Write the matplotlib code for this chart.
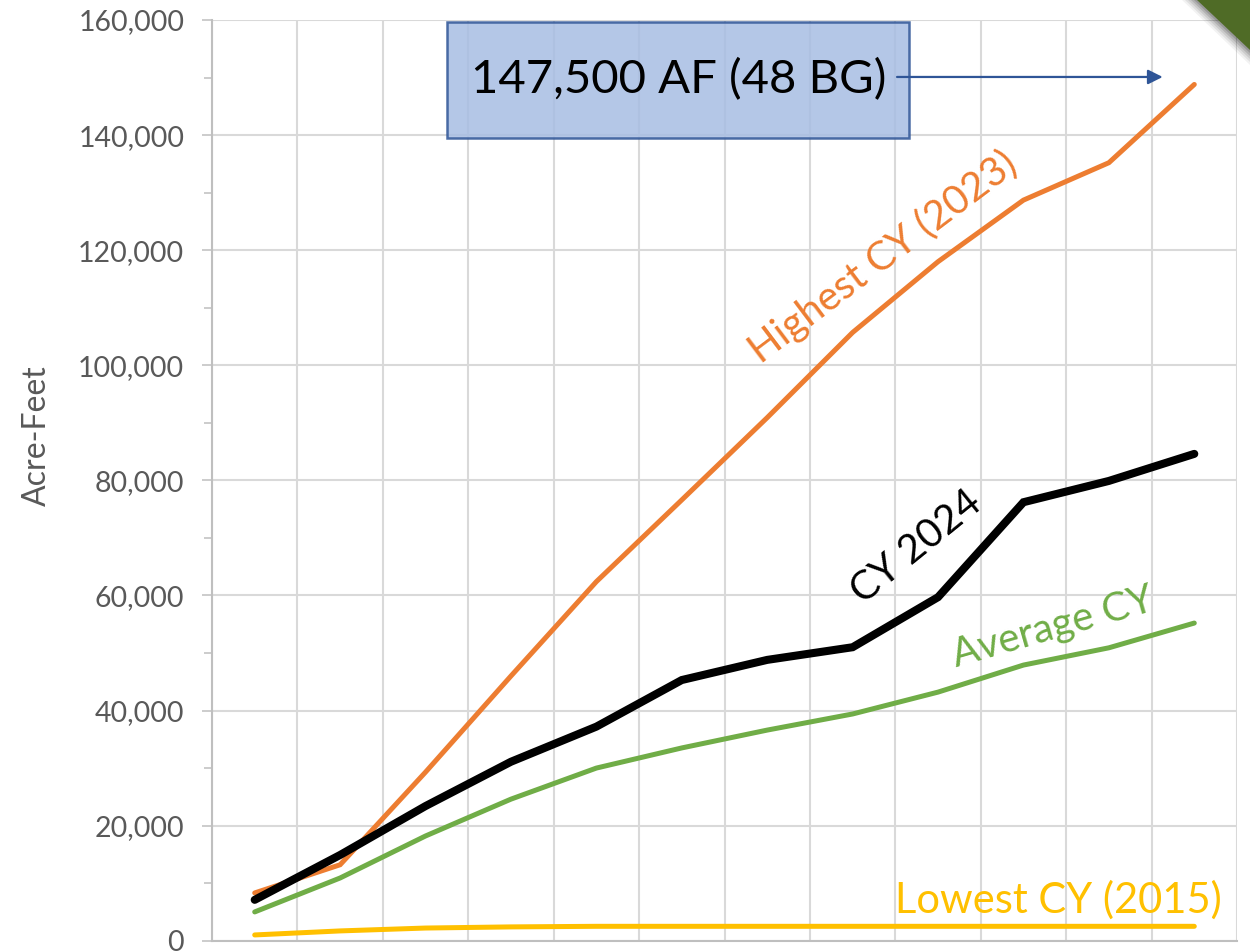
#!/usr/bin/env python3
"""Cumulative acre-feet by month: CY 2024 against the high, low and average years."""

import matplotlib

matplotlib.use("Agg")
import matplotlib.pyplot as plt
import numpy as np
from matplotlib.patches import Polygon, Rectangle
from matplotlib.ticker import FuncFormatter, MultipleLocator

MONTHS = ["Jan", "Feb", "Mar", "Apr", "May", "Jun",
          "Jul", "Aug", "Sep", "Oct", "Nov", "Dec"]
HIGHEST_2023 = [8300, 13200, 29300, 46000, 62400, 76600,
                90900, 105700, 118000, 128700, 135200, 148800]
CY_2024 = [7100, 14900, 23400, 31100, 37200, 45300,
           48800, 51000, 59700, 76200, 79900, 84600]
AVERAGE_CY = [5000, 10900, 18200, 24600, 30000, 33500,
              36600, 39400, 43200, 47900, 50900, 55200]
LOWEST_2015 = [1000, 1700, 2200, 2400, 2500, 2500,
               2500, 2500, 2500, 2500, 2500, 2500]
CALLOUT_TEXT = "147,500 AF (48 BG)"

FONT = ["Lato", "DejaVu Sans"]
GRID = "#D9D9D9"
AXIS = "#BFBFBF"
LABEL = "#595959"

plt.rcParams["font.family"] = FONT

fig = plt.figure(figsize=(12.5, 9.51), dpi=100)
ax = fig.add_axes([212 / 1250, 10.3 / 951, 1025 / 1250, 920.7 / 951])

x = np.arange(len(MONTHS))
series = [
    (LOWEST_2015, "#FFC000", 3.6),
    (AVERAGE_CY, "#70AD47", 3.6),
    (HIGHEST_2023, "#ED7D31", 3.6),
    (CY_2024, "#000000", 5.8),
]
for values, color, width in series:
    ax.plot(x, values, color=color, linewidth=width,
            solid_capstyle="round", solid_joinstyle="miter", zorder=3)

ax.set_xlim(-0.5, len(MONTHS) - 0.5)
ax.set_ylim(0, 160000)
ax.set_xticks(np.arange(-0.5, len(MONTHS), 1))
ax.tick_params(axis="x", length=0, labelbottom=False)
ax.yaxis.set_major_locator(MultipleLocator(20000))
ax.yaxis.set_minor_locator(MultipleLocator(10000))
ax.yaxis.set_major_formatter(FuncFormatter(lambda v, _: f"{v:,.0f}"))
ax.tick_params(axis="y", which="major", length=7, width=1.1, color=AXIS,
               labelsize=20.5, labelcolor=LABEL, pad=13)
ax.tick_params(axis="y", which="minor", length=5.5, width=1.1, color=AXIS)
ax.grid(True, which="major", color=GRID, linewidth=1.5, zorder=0)
ax.set_axisbelow(True)
for side in ("top", "right"):
    ax.spines[side].set_visible(False)
for side in ("left", "bottom"):
    ax.spines[side].set_color(AXIS)
    ax.spines[side].set_linewidth(1.5)

fig.text(37 / 1250, 1 - 436 / 951, "Acre-Feet", rotation=90, fontsize=23,
         color=LABEL, ha="center", va="center")

# series labels drawn along the lines
ax.text(7.35, 118800, "Highest CY (2023)", color="#ED7D31", fontsize=29,
        rotation=37, ha="center", va="center")
ax.text(7.75, 68400, "CY 2024", color="#000000", fontsize=29,
        rotation=39, ha="center", va="center")
ax.text(9.34, 54500, "Average CY", color="#70AD47", fontsize=29,
        rotation=16, ha="center", va="center")
ax.text(9.41, 7100, "Lowest CY (2015)", color="#FFC000", fontsize=30,
        ha="center", va="center")

# callout box with arrow towards the December high
ax.add_patch(Rectangle((2.25, 139500), 5.41, 20200, facecolor="#A7BDE3",
                       alpha=0.85, edgecolor="#2F5597", linewidth=1.8,
                       zorder=4))
ax.text(4.96, 149600, CALLOUT_TEXT, fontsize=34, color="black",
        ha="center", va="center", zorder=5)
ax.annotate("", xy=(10.63, 150100), xytext=(7.52, 150100),
            arrowprops=dict(arrowstyle="-|>", color="#2F5597", lw=1.6,
                            mutation_scale=22, shrinkA=0, shrinkB=0),
            zorder=5)

# slide corner decoration
for k, alpha in enumerate([0.05, 0.07, 0.09, 0.12, 0.15]):
    off = (5 - k) * 3
    fig.patches.append(Polygon(
        [((1197 - off) / 1250, 1), (1, 1), (1, 1 - (50 + off) / 951)],
        closed=True, transform=fig.transFigure, facecolor="black",
        edgecolor="none", alpha=alpha))
fig.patches.append(Polygon(
    [(1197 / 1250, 1), (1, 1), (1, 1 - 50 / 951)], closed=True,
    transform=fig.transFigure, facecolor="#4F6B26", edgecolor="none"))

fig.savefig("out.png", dpi=100)
